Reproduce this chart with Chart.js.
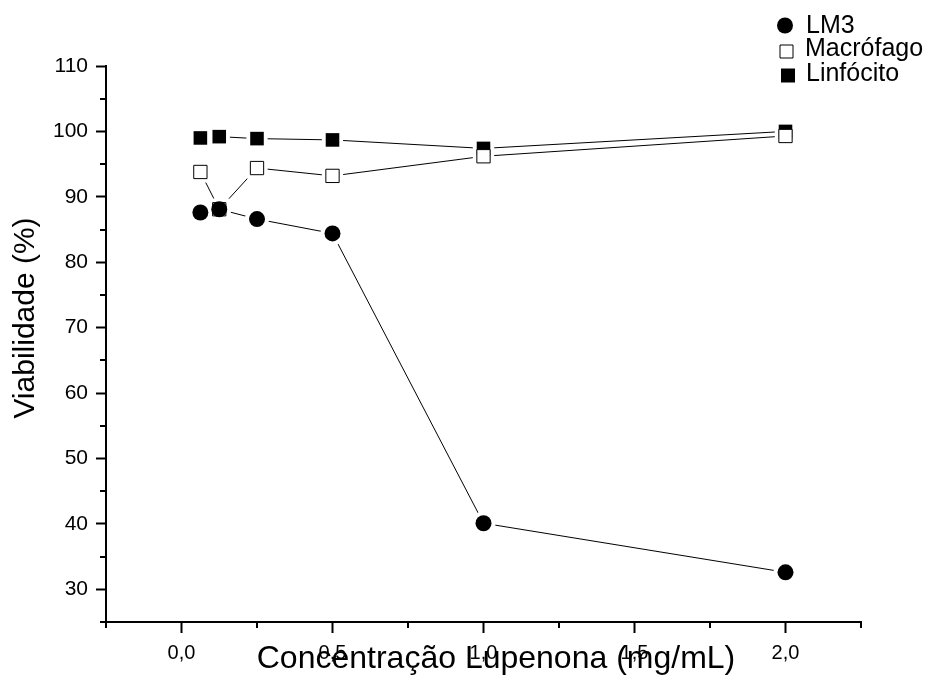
<!DOCTYPE html>
<html>
<head>
<meta charset="utf-8">
<script src="https://cdn.jsdelivr.net/npm/chart.js@4.4.1/dist/chart.umd.min.js"></script>
<style>
  html, body { margin: 0; padding: 0; background: #fff; }
  canvas { display: block; }
</style>
</head>
<body>
<canvas id="chart" width="935" height="679"></canvas>
<script>
// Concentrations tested (mg/mL) and cell viability (%) for each cell type
const concentracoes = [0.0625, 0.125, 0.25, 0.5, 1.0, 2.0];
const lm3 = [87.6, 88.1, 86.6, 84.4, 40.1, 32.6];
const macrofago = [93.8, 88.1, 94.4, 93.2, 96.2, 99.3];
const linfocito = [99.0, 99.2, 98.9, 98.7, 97.4, 100.0];
const seriesNames = ['LM3', 'Macrófago', 'Linfócito'];

// Axis ticks
const xTickValues = [0, 0.5, 1.0, 1.5, 2.0];
const xMinorTickValues = [-0.25, 0.25, 0.75, 1.25, 1.75, 2.25];
const yTickValues = [30, 40, 50, 60, 70, 80, 90, 100, 110];
const yMinorTickValues = [25, 35, 45, 55, 65, 75, 85, 95, 105];

const xTitle = 'Concentração Lupenona (mg/mL)';
const yTitle = 'Viabilidade (%)';

const FONT = "'Liberation Sans', Arial, Helvetica, sans-serif";

const toPoints = (values) => concentracoes.map((x, i) => ({ x: x, y: values[i] }));

// Marker look per series
const markerStyles = [
  { pointStyle: 'circle', pointRadius: 8, pointBackgroundColor: '#000', pointBorderColor: '#000', pointBorderWidth: 0, haloRadius: 12 },
  { pointStyle: 'rect', pointRadius: 9.4, pointBackgroundColor: '#fff', pointBorderColor: '#000', pointBorderWidth: 1, haloRadius: 15 },
  { pointStyle: 'rect', pointRadius: 9.6, pointBackgroundColor: '#000', pointBorderColor: '#000', pointBorderWidth: 0, haloRadius: 15 }
];
const seriesValues = [lm3, macrofago, linfocito];

const datasets = [];
// Markers (top layer)
seriesValues.forEach((vals, i) => {
  const s = markerStyles[i];
  datasets.push({
    label: seriesNames[i],
    data: toPoints(vals),
    showLine: false,
    order: 0,
    pointStyle: s.pointStyle,
    pointRadius: s.pointRadius,
    pointHoverRadius: s.pointRadius,
    pointBackgroundColor: s.pointBackgroundColor,
    pointBorderColor: s.pointBorderColor,
    pointBorderWidth: s.pointBorderWidth,
    isMarker: true,
    markerIndex: i
  });
});
// White halos that open a small gap between the connecting lines and the markers
seriesValues.forEach((vals, i) => {
  const s = markerStyles[i];
  datasets.push({
    label: seriesNames[i] + ' halo',
    data: toPoints(vals),
    showLine: false,
    order: 1,
    pointStyle: s.pointStyle,
    pointRadius: s.haloRadius,
    pointHoverRadius: s.haloRadius,
    pointBackgroundColor: '#fff',
    pointBorderWidth: 0
  });
});
// Thin connecting lines (bottom layer)
seriesValues.forEach((vals, i) => {
  datasets.push({
    label: seriesNames[i] + ' linha',
    data: toPoints(vals),
    showLine: true,
    order: 2,
    borderColor: '#000',
    borderWidth: 1,
    pointRadius: 0,
    pointHoverRadius: 0,
    tension: 0
  });
});

const fmtComma = (v) => Number(v).toFixed(1).replace('.', ',');

// Minor tick marks on both axes
const minorTicks = {
  id: 'minorTicks',
  afterDraw(chart) {
    const { ctx, chartArea, scales } = chart;
    ctx.save();
    ctx.strokeStyle = '#000';
    ctx.lineWidth = 2;
    ctx.beginPath();
    yMinorTickValues.forEach((v) => {
      const py = Math.round(scales.y.getPixelForValue(v));
      ctx.moveTo(chartArea.left, py);
      ctx.lineTo(chartArea.left - 6, py);
    });
    xMinorTickValues.forEach((v) => {
      const px = Math.round(scales.x.getPixelForValue(v));
      ctx.moveTo(px, chartArea.bottom);
      ctx.lineTo(px, chartArea.bottom + 6);
    });
    ctx.stroke();
    ctx.restore();
  }
};

// Axis titles
const axisTitles = {
  id: 'axisTitles',
  afterDraw(chart) {
    const { ctx } = chart;
    ctx.save();
    ctx.fillStyle = '#000';
    ctx.font = '32px ' + FONT;
    ctx.textAlign = 'center';
    ctx.textBaseline = 'alphabetic';
    ctx.fillText(xTitle, 496, 668);

    ctx.translate(34, 318);
    ctx.rotate(-Math.PI / 2);
    ctx.font = '30px ' + FONT;
    ctx.fillText(yTitle, 0, 0);
    ctx.restore();
  }
};

// Legend in the top-right corner, stacked vertically
const stackedLegend = {
  id: 'stackedLegend',
  afterDraw(chart) {
    const { ctx } = chart;
    const items = chart.data.datasets.filter((d) => d.isMarker);
    const rows = [
      { cx: 785, cy: 25.5, size: 16, tx: 806, ty: 33 },
      { cx: 786.5, cy: 51.5, size: 13, tx: 805, ty: 56 },
      { cx: 788, cy: 75.5, size: 14, tx: 806, ty: 81 }
    ];
    ctx.save();
    ctx.font = '25px ' + FONT;
    ctx.textAlign = 'left';
    ctx.textBaseline = 'alphabetic';
    items.forEach((d, i) => {
      const r = rows[i];
      const s = markerStyles[d.markerIndex];
      ctx.fillStyle = s.pointBackgroundColor;
      ctx.strokeStyle = '#000';
      ctx.lineWidth = 1;
      ctx.beginPath();
      if (s.pointStyle === 'circle') {
        ctx.arc(r.cx, r.cy, r.size / 2, 0, Math.PI * 2);
        ctx.fill();
      } else {
        ctx.rect(r.cx - r.size / 2, r.cy - r.size / 2, r.size, r.size);
        ctx.fill();
        if (s.pointBorderWidth > 0) ctx.stroke();
      }
      ctx.fillStyle = '#000';
      ctx.fillText(d.label, r.tx, r.ty);
    });
    ctx.restore();
  }
};

new Chart(document.getElementById('chart'), {
  type: 'scatter',
  data: { datasets: datasets },
  options: {
    responsive: false,
    devicePixelRatio: 1,
    animation: false,
    events: [],
    layout: { padding: { top: 66, right: 74, left: 0, bottom: 0 } },
    plugins: {
      legend: { display: false },
      tooltip: { enabled: false },
      title: { display: false }
    },
    scales: {
      x: {
        type: 'linear',
        min: -0.25,
        max: 2.25,
        afterBuildTicks: (scale) => { scale.ticks = xTickValues.map((v) => ({ value: v })); },
        afterFit: (scale) => { scale.height = 57; },
        border: { display: true, color: '#000', width: 2 },
        grid: { display: true, drawOnChartArea: false, drawTicks: true, tickLength: 11, tickColor: '#000', tickWidth: 2 },
        ticks: {
          color: '#000',
          padding: 8,
          maxRotation: 0,
          autoSkip: false,
          font: { family: FONT, size: 20 },
          callback: (v) => fmtComma(v)
        }
      },
      y: {
        type: 'linear',
        min: 25,
        max: 110,
        afterBuildTicks: (scale) => { scale.ticks = yTickValues.map((v) => ({ value: v })); },
        afterFit: (scale) => { scale.width = 106; },
        border: { display: true, color: '#000', width: 2 },
        grid: { display: true, drawOnChartArea: false, drawTicks: true, tickLength: 10, tickColor: '#000', tickWidth: 2 },
        ticks: {
          color: '#000',
          padding: 8,
          autoSkip: false,
          font: { family: FONT, size: 21 },
          callback: (v) => String(v)
        }
      }
    }
  },
  plugins: [minorTicks, axisTitles, stackedLegend]
});
</script>
</body>
</html>
